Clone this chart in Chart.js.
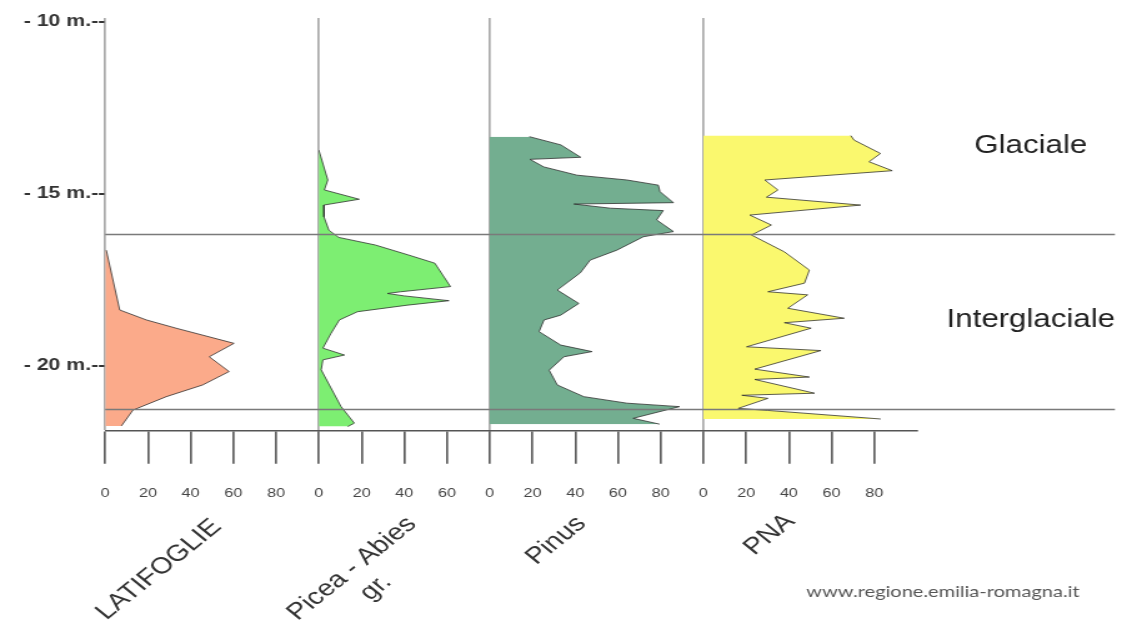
<!DOCTYPE html>
<html>
<head>
<meta charset="utf-8">
<script src="https://cdn.jsdelivr.net/npm/chart.js@4.4.1/dist/chart.umd.min.js"></script>
<style>
  html, body { margin: 0; padding: 0; background: #fff; }
</style>
</head>
<body>
<!-- the source picture is stretched sideways, so the canvas is too -->
<canvas id="pollen" width="906" height="620" style="display:block;width:1132px;height:620px"></canvas>
<script>
// depth in metres (negative, downwards) and percentage
const latifoglieDepth = [-16.64, -18.38, -18.67, -18.91, -19.35, -19.74, -20.17, -20.56, -20.90, -21.29, -21.75];
const latifoglieValue = [0.5, 6.8, 19.3, 33.2, 60.3, 48.7, 58, 45.6, 28.6, 13, 7.6];

const piceaDepth = [-13.73, -14.60, -14.89, -15.16, -15.33, -15.67, -16.06, -16.27, -16.49, -16.78, -17.02, -17.70,
  -17.85, -17.90, -17.97, -18.11, -18.24, -18.43, -18.67, -19.06, -19.49, -19.69, -19.83, -20.12, -21.19, -21.67, -21.77];
const piceaValue = [0, 4.2, 2.6, 18.9, 2.3, 2.4, 4.7, 9.3, 26.4, 41.9, 54.3, 61.6,
  38.3, 32.1, 39.9, 60.9, 41.4, 18.1, 9.6, 5.7, 1.9, 12, 1.9, 1.1, 10.4, 16.6, 13.5];

const pinusDepth = [-13.34, -13.58, -13.94, -14.00, -14.22, -14.46, -14.60, -14.75, -14.94, -15.26, -15.30, -15.42,
  -15.49, -15.76, -16.10, -16.25, -16.64, -16.93, -17.30, -17.80, -18.19, -18.53, -18.67, -19.01, -19.40, -19.59,
  -19.74, -20.13, -20.56, -20.90, -21.09, -21.19, -21.53, -21.70];
const pinusValue = [18.5, 33.3, 42.6, 18.8, 25.3, 40.8, 64.2, 78.9, 79.7, 86, 39.4, 56.4,
  81.2, 78.1, 86, 71.9, 59.5, 47, 42.4, 31.6, 41.7, 33.2, 25.4, 23.1, 33.2, 47.9,
  34.7, 27.8, 31.6, 44, 64.2, 88.8, 67.1, 79.5];

const pnaDepth = [-13.31, -13.44, -13.83, -14.07, -14.33, -14.60, -14.89, -15.10, -15.33, -15.62, -15.91, -16.20,
  -16.69, -17.22, -17.60, -17.85, -17.94, -18.33, -18.62, -18.75, -18.91, -19.45, -19.56, -20.10, -20.33, -20.40,
  -20.80, -20.86, -20.95, -21.24, -21.30, -21.55];
const pnaValue = [69, 70.5, 82.9, 77.5, 88.4, 28.7, 34.9, 29.5, 73.6, 21.7, 31.8, 22.5,
  37.9, 49.6, 47.3, 30.2, 48.8, 39.5, 65.9, 37.9, 50.4, 20.2, 55, 24, 49.6, 24,
  52, 18, 30.2, 16.3, 30, 83];

const taxa = ['LATIFOGLIE', ['Picea - Abies', 'gr.'], 'Pinus', 'PNA'];
const taxaMax = [100, 80, 100, 100];
const depthTicks = [-10, -15, -20];
const zoneBounds = [-16.18, -21.27];
const zoneNames = ['Glaciale', 'Interglaciale'];
const zoneNameDepth = [-13.82, -18.88];
const source = 'www.regione.emilia-romagna.it';

const fills = ['#fbaa8a', '#7dee72', '#73ae90', '#faf86e'];

function pairs(depth, value) {
  return depth.map((d, i) => ({ x: value[i], y: d }));
}

const series = [
  pairs(latifoglieDepth, latifoglieValue),
  pairs(piceaDepth, piceaValue),
  pairs(pinusDepth, pinusValue),
  pairs(pnaDepth, pnaValue)
];

const font = '"Liberation Sans", Arial, sans-serif';

// one x axis per taxon, stacked side by side along the bottom
const scales = {
  y: {
    type: 'linear',
    min: -21.89,
    max: -9.89,
    afterFit: s => { s.width = 84.2; },
    afterBuildTicks: s => { s.ticks = depthTicks.map(v => ({ value: v })); },
    grid: { display: false, drawTicks: false },
    border: { display: false },
    ticks: {
      padding: 0,
      color: '#333',
      font: { family: font, size: 17, weight: 'bold' },
      callback: v => '- ' + Math.abs(v) + ' m.--'
    }
  }
};

taxa.forEach((t, i) => {
  scales['x' + i] = {
    type: 'linear',
    position: 'bottom',
    stack: 'panels',
    stackWeight: taxaMax[i],
    min: 0,
    max: taxaMax[i],
    afterFit: s => { s.height = 189.3; },
    afterBuildTicks: s => { s.ticks = s.ticks.filter(k => k.value < taxaMax[i]); },
    grid: {
      color: c => (c.tick && c.tick.value === 0 ? '#a9a9a9' : 'rgba(0,0,0,0)'),
      lineWidth: 1.7,
      tickColor: '#555',
      tickWidth: 1.6,
      tickLength: 33
    },
    border: { display: true, color: '#555', width: 1.4 },
    ticks: {
      stepSize: 20,
      padding: 22,
      color: '#444',
      font: { family: font, size: 13 }
    }
  };
});

// empty room on the right for the zone names
scales.x4 = {
  type: 'linear',
  position: 'bottom',
  stack: 'panels',
  stackWeight: 92.6,
  min: 0,
  max: 92.6,
  afterFit: s => { s.height = 189.3; },
  grid: { display: false, drawTicks: false },
  border: { display: false },
  ticks: { display: false }
};

const labelSpots = [
  { dx: 47.5, y: 574 },
  { dx: 31.0, y: 573 },
  { dx: 57.5, y: 545 },
  { dx: 57.5, y: 539 }
];

const overlay = {
  id: 'overlay',
  afterDatasetsDraw(chart) {
    const { ctx, chartArea, scales } = chart;
    const y = scales.y;
    ctx.save();

    ctx.strokeStyle = '#7a7a7a';
    ctx.lineWidth = 1.5;
    zoneBounds.forEach(d => {
      const py = Math.round(y.getPixelForValue(d)) + 0.5;
      ctx.beginPath();
      ctx.moveTo(chartArea.left, py);
      ctx.lineTo(chartArea.right, py);
      ctx.stroke();
    });

    ctx.fillStyle = '#222';
    ctx.font = '25px ' + font;
    ctx.textAlign = 'center';
    ctx.textBaseline = 'alphabetic';
    zoneNames.forEach((n, i) => ctx.fillText(n, 825, y.getPixelForValue(zoneNameDepth[i])));

    ctx.fillStyle = '#333';
    ctx.font = '23px ' + font;
    taxa.forEach((t, i) => {
      const sc = scales['x' + i];
      const lines = Array.isArray(t) ? t : [t];
      ctx.save();
      ctx.translate(sc.left + labelSpots[i].dx, labelSpots[i].y);
      ctx.rotate(-Math.PI / 4);
      lines.forEach((line, k) => ctx.fillText(line, 0, k * 27));
      ctx.restore();
    });

    ctx.fillStyle = '#555';
    ctx.font = '16px Lato, "Open Sans", sans-serif';
    ctx.textAlign = 'right';
    ctx.fillText(source, 864, 597);
    ctx.restore();
  }
};

const chart = new Chart(document.getElementById('pollen'), {
  type: 'line',
  data: {
    datasets: series.map((data, i) => ({
      label: Array.isArray(taxa[i]) ? taxa[i].join(' ') : taxa[i],
      data: data,
      xAxisID: 'x' + i,
      yAxisID: 'y',
      fill: 'origin',
      backgroundColor: fills[i],
      borderColor: 'rgba(40,40,40,0.75)',
      borderWidth: 1,
      pointRadius: 0,
      tension: 0
    }))
  },
  options: {
    indexAxis: 'y',
    responsive: false,
    devicePixelRatio: 1,
    animation: false,
    layout: { padding: { top: 18, right: 10, bottom: 0, left: 0 } },
    plugins: {
      legend: { display: false },
      tooltip: { enabled: false }
    },
    scales: scales
  },
  plugins: [overlay]
});
</script>
</body>
</html>
